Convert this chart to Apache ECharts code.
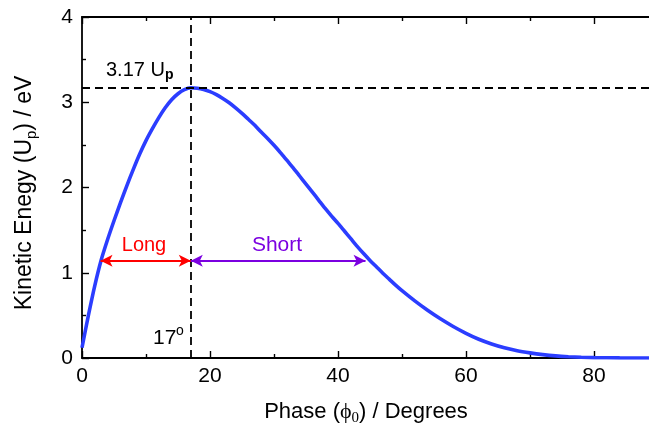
<!DOCTYPE html>
<html lang="en">
<head>
  <meta charset="UTF-8">
  <title>Kinetic Energy vs Phase</title>
  <style>
    html, body { margin: 0; padding: 0; background: #fff; overflow: hidden; }
    /* plot runs past the right edge of the window, as in the reference */
    #chart { width: 658px; height: 430px; }
  </style>
</head>
<body>
  <div id="chart"></div>
  <script src="https://cdn.jsdelivr.net/npm/echarts@6/dist/echarts.min.js"></script>
  <script>
    // values
    var phase = [0, 1, 2, 3, 4, 5, 6, 7, 8, 9, 10, 11, 12, 13, 14, 15, 16, 17, 18, 19,
                 20, 21, 22, 23, 24, 25, 26, 27, 28, 29, 30, 31, 32, 33, 34, 35, 36, 37, 38, 39,
                 40, 41, 42, 43, 44, 45, 46, 47, 48, 49, 50, 52, 54, 56, 58, 60, 62, 64, 66, 68,
                 70, 72, 74, 76, 78, 80, 84, 88, 90];
    var energy = [0.12, 0.5, 0.85, 1.15, 1.39, 1.61, 1.82, 2.02, 2.21, 2.39, 2.55, 2.69, 2.82, 2.935, 3.03, 3.1, 3.148, 3.17, 3.165, 3.15,
                  3.125, 3.09, 3.045, 2.995, 2.935, 2.87, 2.8, 2.73, 2.65, 2.575, 2.495, 2.41, 2.32, 2.23, 2.135, 2.04, 1.945, 1.85, 1.755, 1.665,
                  1.58, 1.49, 1.4, 1.31, 1.225, 1.145, 1.07, 0.995, 0.925, 0.855, 0.79, 0.67, 0.56, 0.46, 0.37, 0.29, 0.22, 0.165, 0.12, 0.085,
                  0.06, 0.04, 0.025, 0.015, 0.008, 0.004, 0.001, 0, 0];
    var peakPhase = 17;
    var peakEnergy = 3.17;
    var arrowLevel = 1.14;
    var longStart = 2.9;
    var shortEnd = 44.3;
    var xTicks = { min: 0, max: 90, interval: 20 };
    var yTicks = { min: 0, max: 4, interval: 1 };

    var chart = echarts.init(document.getElementById('chart'));
    var font = 'Liberation Sans, Arial, sans-serif';

    var points = phase.map(function (p, i) { return [p, energy[i]]; });

    function xAxisBase(pos, showLabel) {
      return {
        type: 'value',
        position: pos,
        min: xTicks.min,
        max: xTicks.max,
        interval: xTicks.interval,
        axisLine: { show: true, onZero: false, lineStyle: { color: '#000', width: 1.8 } },
        axisTick: { show: true, inside: true, length: 7, lineStyle: { color: '#000', width: 1.4 } },
        minorTick: { show: true, splitNumber: 2, length: 4, lineStyle: { color: '#000', width: 1.4 } },
        axisLabel: { show: showLabel, showMaxLabel: false, color: '#000', fontSize: 21, fontFamily: font, margin: 8 },
        splitLine: { show: false }
      };
    }

    var option = {
      animation: false,
      grid: { left: 82, right: 0, top: 17, bottom: 72, outerBoundsMode: 'none', containLabel: false },
      xAxis: [xAxisBase('bottom', true), xAxisBase('top', false)],
      yAxis: {
        type: 'value',
        min: yTicks.min,
        max: yTicks.max,
        interval: yTicks.interval,
        axisLine: { show: true, onZero: false, lineStyle: { color: '#000', width: 1.8 } },
        axisTick: { show: true, inside: true, length: 7, lineStyle: { color: '#000', width: 1.4 } },
        minorTick: { show: true, splitNumber: 2, length: 4, lineStyle: { color: '#000', width: 1.4 } },
        axisLabel: { color: '#000', fontSize: 21, fontFamily: font, margin: 9 },
        splitLine: { show: false }
      },
      series: [
        {
          type: 'line',
          data: points,
          showSymbol: false,
          smooth: 0.25,
          lineStyle: { color: '#2b3dff', width: 3.6 },
          z: 3,
          markLine: {
            silent: true,
            symbol: 'none',
            label: { show: false },
            lineStyle: { color: '#000', type: [8, 5], width: 1.8 },
            data: [
              { xAxis: peakPhase },
              { yAxis: peakEnergy }
            ]
          }
        },
        {
          type: 'line',
          data: [],
          markLine: {
            silent: true,
            symbol: ['arrow', 'arrow'],
            symbolSize: [9, 12],
            label: { show: false },
            data: [
              [{ coord: [longStart, arrowLevel], lineStyle: { color: '#ff0000', width: 1.8, type: 'solid' } },
               { coord: [peakPhase, arrowLevel] }],
              [{ coord: [peakPhase, arrowLevel], lineStyle: { color: '#7b00e0', width: 1.8, type: 'solid' } },
               { coord: [shortEnd, arrowLevel] }]
            ]
          }
        }
      ],
      graphic: [
        {
          type: 'text', left: 106, top: 60,
          style: {
            text: '{m|3.17 U}{s|p}',
            rich: {
              m: { fontSize: 20, fontFamily: font, fill: '#000', lineHeight: 25 },
              s: { fontSize: 14, fontFamily: font, fontWeight: 'bold', fill: '#000', verticalAlign: 'bottom', lineHeight: 14 }
            }
          }
        },
        {
          type: 'text', left: 153, top: 328,
          style: { text: '17', fontSize: 21, fontFamily: font, fill: '#000' }
        },
        {
          type: 'text', left: 176, top: 324,
          style: { text: 'o', fontSize: 14, fontFamily: font, fill: '#000' }
        },
        {
          type: 'text', x: 144, y: 245,
          style: { text: 'Long', fontSize: 20, fontFamily: font, fill: '#ff0000', align: 'center', verticalAlign: 'middle' }
        },
        {
          type: 'text', x: 277, y: 245,
          style: { text: 'Short', fontSize: 21, fontFamily: font, fill: '#7b00e0', align: 'center', verticalAlign: 'middle' }
        },
        {
          type: 'text', x: 366, y: 412,
          style: {
            text: '{m|Phase (}{g|ϕ}{s|0}{m|) / Degrees}',
            align: 'center', verticalAlign: 'middle',
            rich: {
              m: { fontSize: 22, fontFamily: font, fill: '#000', lineHeight: 28 },
              g: { fontSize: 22, fontFamily: 'Liberation Serif, serif', fill: '#000', lineHeight: 28 },
              s: { fontSize: 15, fontFamily: 'Liberation Serif, serif', fill: '#000', verticalAlign: 'bottom', lineHeight: 15 }
            }
          }
        },
        {
          type: 'text', x: 25, y: 193, rotation: Math.PI / 2,
          style: {
            text: '{m|Kinetic Enegy (U}{s|p}{m|) / eV}',
            align: 'center', verticalAlign: 'middle',
            rich: {
              m: { fontSize: 23, fontFamily: font, fill: '#000', lineHeight: 28 },
              s: { fontSize: 15, fontFamily: font, fill: '#000', verticalAlign: 'bottom', lineHeight: 15 }
            }
          }
        }
      ]
    };

    chart.setOption(option);
  </script>
</body>
</html>
